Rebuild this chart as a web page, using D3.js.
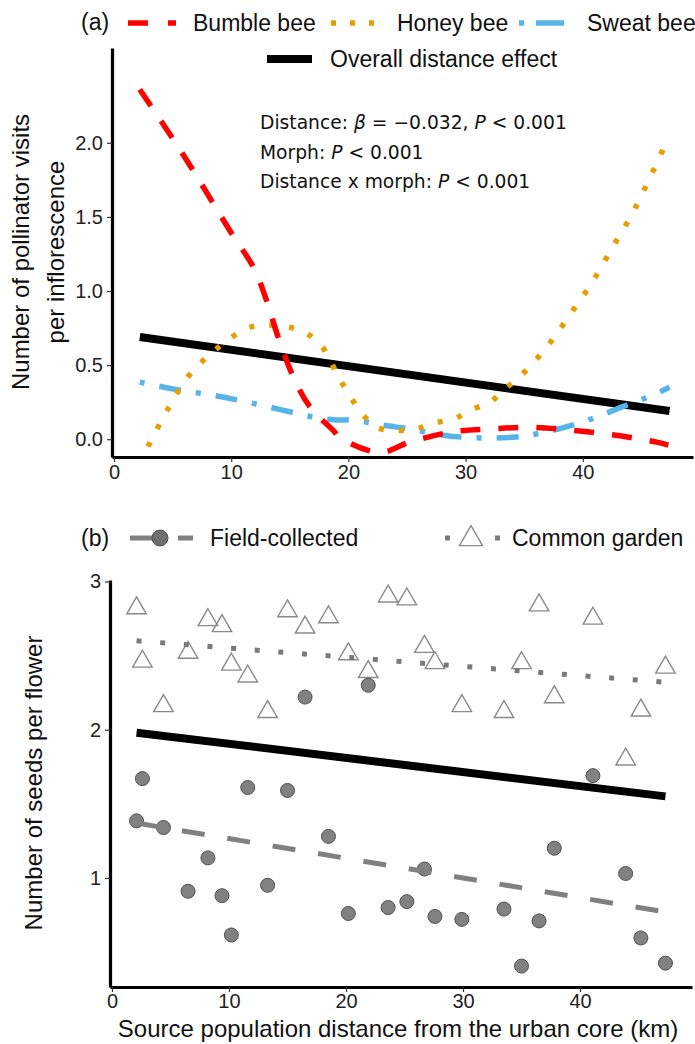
<!DOCTYPE html>
<html>
<head>
<meta charset="utf-8">
<script src="https://cdn.jsdelivr.net/npm/d3@7"></script>
<style>
  body { margin: 0; background: #fff; }
  text { font-family: "Liberation Sans", Arial, sans-serif; fill: #111; }
  .tick text { font-size: 20px; fill: #222; }
  .annot { font-family: "DejaVu Sans", sans-serif; font-size: 18.7px; }
</style>
</head>
<body>
<div id="chart"></div>
<script>
// panel (a) pollinator visits, smoothed curves
var bumbleDist = [2.2, 5.0, 6.7, 10.1, 11.9, 13.0, 14.0, 15.3, 16.7, 18.7, 19.3, 22.7, 25.2, 28.9, 32.3, 35.7, 39.1, 42.5, 46.3, 47.3];
var bumbleVisits = [2.36, 2.03, 1.82, 1.38, 1.16, 0.94, 0.69, 0.42, 0.22, 0.06, 0.01, -0.09, -0.02, 0.05, 0.07, 0.08, 0.06, 0.03, -0.02, -0.04];

var honeyDist = [2.9, 4.5, 6.3, 8.6, 11.4, 13.0, 14.7, 16.3, 17.7, 19.3, 21.1, 22.4, 24.1, 25.8, 27.4, 29.1, 30.5, 32.1, 33.2, 34.6, 36.9, 38.9, 40.8, 42.5, 44.2, 45.7, 47.1];
var honeyVisits = [-0.05, 0.19, 0.42, 0.60, 0.75, 0.77, 0.76, 0.72, 0.63, 0.40, 0.18, 0.08, 0.06, 0.07, 0.11, 0.14, 0.20, 0.25, 0.33, 0.42, 0.62, 0.84, 1.06, 1.29, 1.52, 1.76, 2.00];

var sweatDist = [2.2, 5.0, 9.6, 14.2, 17.6, 19.0, 20.4, 22.9, 25.2, 27.8, 30.6, 34.3, 36.9, 39.1, 41.2, 43.4, 45.4, 47.4];
var sweatVisits = [0.385, 0.34, 0.28, 0.20, 0.14, 0.13, 0.13, 0.095, 0.07, 0.03, 0.01, 0.015, 0.05, 0.095, 0.15, 0.22, 0.28, 0.35];

var overallDist = [2.2, 47.4];
var overallVisits = [0.69, 0.19];

var visitTicks = [0, 0.5, 1, 1.5, 2];
var distTicks = [0, 10, 20, 30, 40];

var statLines = [
  ["Distance: ", "β", " = −0.032, ", "P", " < 0.001"],
  ["Morph: ", "P", " < 0.001"],
  ["Distance x morph: ", "P", " < 0.001"]
];

// panel (b) seeds per flower
var popDist = [2.1, 2.6, 4.4, 6.5, 8.2, 9.4, 10.2, 11.6, 13.3, 15.0, 16.5, 18.5, 20.2, 21.9, 23.6, 25.2, 26.7, 27.6, 29.9, 33.5, 35.0, 36.5, 37.8, 41.1, 43.9, 45.2, 47.3];
var fieldSeeds = [1.385, 1.67, 1.34, 0.91, 1.135, 0.88, 0.615, 1.61, 0.95, 1.59, 2.22, 1.28, 0.76, 2.30, 0.80, 0.84, 1.06, 0.74, 0.72, 0.79, 0.405, 0.71, 1.20, 1.69, 1.03, 0.595, 0.425];
var gardenSeeds = [2.82, 2.46, 2.16, 2.52, 2.74, 2.70, 2.44, 2.36, 2.12, 2.80, 2.69, 2.76, 2.51, 2.39, 2.90, 2.88, 2.56, 2.45, 2.16, 2.12, 2.45, 2.84, 2.22, 2.75, 1.80, 2.13, 2.42];

var fitDist = [2.1, 47.3];
var fieldFit = [1.37, 0.77];
var gardenFit = [2.60, 2.32];
var overallFit = [1.98, 1.55];
var seedTicks = [1, 2, 3];

var svgWidth = 695;
var svgHeight = 1044;

var svg = d3.select("#chart")
  .append("svg")
  .attr("width", svgWidth)
  .attr("height", svgHeight);

function zip(xs, ys) {
  return xs.map(function(x, i) { return [x, ys[i]]; });
}

function styleAxis(g) {
  g.select(".domain").attr("stroke", "#000").attr("stroke-width", 3.2);
  g.selectAll(".tick line").attr("stroke", "#333").attr("stroke-width", 1.2);
}

// ---------- panel (a) ----------
var xA = d3.scaleLinear().domain([-0.17, 49.4]).range([112, 693]);
var yA = d3.scaleLinear().domain([-0.12, 2.64]).range([457, 48]);

var lineA = d3.line()
  .x(d => xA(d[0]))
  .y(d => yA(d[1]))
  .curve(d3.curveCatmullRom.alpha(0.5));

var panelA = svg.append("g");

panelA.append("path")
  .datum(zip(overallDist, overallVisits))
  .attr("d", lineA)
  .attr("fill", "none")
  .attr("stroke", "#000")
  .attr("stroke-width", 8);

panelA.append("path")
  .datum(zip(sweatDist, sweatVisits))
  .attr("d", lineA)
  .attr("fill", "none")
  .attr("stroke", "#56B4E9")
  .attr("stroke-width", 5.5)
  .attr("stroke-dasharray", "5,15,22,15");

panelA.append("path")
  .datum(zip(honeyDist, honeyVisits))
  .attr("d", lineA)
  .attr("fill", "none")
  .attr("stroke", "#E69F00")
  .attr("stroke-width", 5.5)
  .attr("stroke-dasharray", "5,15");

panelA.append("path")
  .datum(zip(bumbleDist, bumbleVisits))
  .attr("d", lineA)
  .attr("fill", "none")
  .attr("stroke", "#FF0000")
  .attr("stroke-width", 5.5)
  .attr("stroke-dasharray", "20,18");

panelA.append("g")
  .attr("transform", "translate(0,457)")
  .call(d3.axisBottom(xA).tickValues(distTicks).tickSize(5).tickSizeOuter(0).tickPadding(3))
  .call(styleAxis);

panelA.append("g")
  .attr("transform", "translate(112,0)")
  .call(d3.axisLeft(yA).tickValues(visitTicks).tickFormat(d3.format(".1f")).tickSize(5).tickSizeOuter(0).tickPadding(4))
  .call(styleAxis);

// y title, two lines
var titleA = panelA.append("text")
  .attr("transform", "translate(29,252) rotate(-90)")
  .attr("text-anchor", "middle")
  .style("font-size", "24px");
titleA.append("tspan").attr("x", 0).attr("dy", 0).text("Number of pollinator visits");
titleA.append("tspan").attr("x", 0).attr("dy", 35).text("per inflorescence");

// stats annotation
statLines.forEach(function(parts, i) {
  var t = panelA.append("text")
    .attr("class", "annot")
    .attr("x", 260)
    .attr("y", 129 + i * 29.5);
  parts.forEach(function(p) {
    var ts = t.append("tspan").text(p);
    if (p === "P" || p === "β") ts.style("font-style", "italic");
  });
});

// legend (a)
var legA = svg.append("g");
legA.append("text").attr("x", 81).attr("y", 30).style("font-size", "23px").text("(a)");

var legAItems = [
  { x1: 128, x2: 176, color: "#FF0000", dash: "20,20", w: 5.5, label: "Bumble bee", lx: 193, y: 23 },
  { x1: 331, x2: 378, color: "#E69F00", dash: "5,14", w: 5.5, label: "Honey bee", lx: 397, y: 23 },
  { x1: 519, x2: 566, color: "#56B4E9", dash: "5,12,28,12", w: 5.5, label: "Sweat bee", lx: 587, y: 23 },
  { x1: 267, x2: 312, color: "#000", dash: null, w: 8, label: "Overall distance effect", lx: 330, y: 59 }
];

legAItems.forEach(function(d) {
  legA.append("line")
    .attr("x1", d.x1).attr("x2", d.x2)
    .attr("y1", d.y).attr("y2", d.y)
    .attr("stroke", d.color)
    .attr("stroke-width", d.w)
    .attr("stroke-dasharray", d.dash);
  legA.append("text")
    .attr("x", d.lx)
    .attr("y", d.y + 8)
    .style("font-size", "23px")
    .text(d.label);
});

// ---------- panel (b) ----------
var xB = d3.scaleLinear().domain([-0.17, 49.57]).range([110, 692]);
var yB = d3.scaleLinear().domain([0.264, 3.01]).range([987, 580]);

var lineB = d3.line()
  .x(d => xB(d[0]))
  .y(d => yB(d[1]));

var panelB = svg.append("g");

panelB.append("path")
  .datum(zip(fitDist, overallFit))
  .attr("d", lineB)
  .attr("fill", "none")
  .attr("stroke", "#000")
  .attr("stroke-width", 8);

var tri = d3.symbol().type(d3.symbolTriangle).size(165);

panelB.selectAll(".garden")
  .data(zip(popDist, gardenSeeds))
  .enter()
  .append("path")
  .attr("class", "garden")
  .attr("d", tri)
  .attr("transform", d => `translate(${xB(d[0])},${yB(d[1])})`)
  .attr("fill", "none")
  .attr("stroke", "#8a8a8a")
  .attr("stroke-width", 1.4);

panelB.selectAll(".field")
  .data(zip(popDist, fieldSeeds))
  .enter()
  .append("circle")
  .attr("class", "field")
  .attr("cx", d => xB(d[0]))
  .attr("cy", d => yB(d[1]))
  .attr("r", 7)
  .attr("fill", "#6f6f6f")
  .attr("fill-opacity", 0.88)
  .attr("stroke", "#505050")
  .attr("stroke-width", 1);

panelB.append("path")
  .datum(zip(fitDist, gardenFit))
  .attr("d", lineB)
  .attr("fill", "none")
  .attr("stroke", "#7a7a7a")
  .attr("stroke-width", 5)
  .attr("stroke-dasharray", "5,18.7");

panelB.append("path")
  .datum(zip(fitDist, fieldFit))
  .attr("d", lineB)
  .attr("fill", "none")
  .attr("stroke", "#808080")
  .attr("stroke-width", 5)
  .attr("stroke-dasharray", "23,23");

panelB.append("g")
  .attr("transform", "translate(0,987)")
  .call(d3.axisBottom(xB).tickValues(distTicks).tickSize(5).tickSizeOuter(0).tickPadding(2))
  .call(styleAxis);

panelB.append("g")
  .attr("transform", "translate(110,0)")
  .call(d3.axisLeft(yB).tickValues(seedTicks).tickFormat(d3.format("d")).tickSize(5).tickSizeOuter(0).tickPadding(4))
  .call(styleAxis);

panelB.append("text")
  .attr("transform", "translate(42,783) rotate(-90)")
  .attr("text-anchor", "middle")
  .style("font-size", "24px")
  .text("Number of seeds per flower");

panelB.append("text")
  .attr("x", 398)
  .attr("y", 1037)
  .attr("text-anchor", "middle")
  .style("font-size", "24px")
  .text("Source population distance from the urban core (km)");

// legend (b)
var legB = svg.append("g");
legB.append("text").attr("x", 81).attr("y", 546).style("font-size", "23px").text("(b)");

legB.append("line")
  .attr("x1", 130).attr("x2", 193)
  .attr("y1", 538).attr("y2", 538)
  .attr("stroke", "#808080")
  .attr("stroke-width", 5)
  .attr("stroke-dasharray", "30,18,20");
legB.append("circle")
  .attr("cx", 160).attr("cy", 538).attr("r", 8)
  .attr("fill", "#6f6f6f").attr("stroke", "#505050").attr("stroke-width", 1);
legB.append("text").attr("x", 210).attr("y", 546).style("font-size", "23px").text("Field-collected");

legB.append("line")
  .attr("x1", 445).attr("x2", 500)
  .attr("y1", 538).attr("y2", 538)
  .attr("stroke", "#7a7a7a")
  .attr("stroke-width", 5)
  .attr("stroke-dasharray", "5,45,5");
legB.append("path")
  .attr("d", d3.symbol().type(d3.symbolTriangle).size(230))
  .attr("transform", "translate(471,539)")
  .attr("fill", "none")
  .attr("stroke", "#8a8a8a")
  .attr("stroke-width", 1.4);
legB.append("text").attr("x", 512).attr("y", 546).style("font-size", "23px").text("Common garden");
</script>
</body>
</html>
